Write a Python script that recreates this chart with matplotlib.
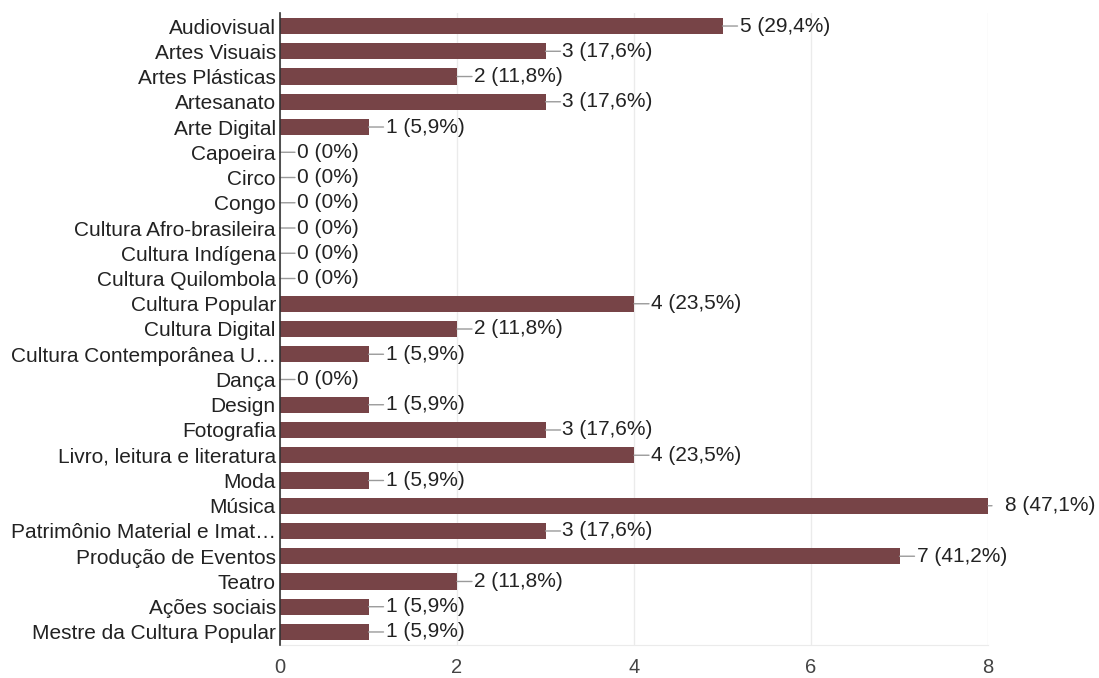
import matplotlib
matplotlib.use("Agg")
import matplotlib.pyplot as plt

categories = ["Audiovisual", "Artes Visuais", "Artes Plásticas", "Artesanato", "Arte Digital",
              "Capoeira", "Circo", "Congo", "Cultura Afro-brasileira", "Cultura Indígena",
              "Cultura Quilombola", "Cultura Popular", "Cultura Digital",
              "Cultura Contemporânea U…", "Dança", "Design", "Fotografia",
              "Livro, leitura e literatura", "Moda", "Música", "Patrimônio Material e Imat…",
              "Produção de Eventos", "Teatro", "Ações sociais", "Mestre da Cultura Popular"]
counts = [5, 3, 2, 3, 1, 0, 0, 0, 0, 0, 0, 4, 2, 1, 0, 1, 3, 4, 1, 8, 3, 7, 2, 1, 1]
percents = ["29,4%", "17,6%", "11,8%", "17,6%", "5,9%", "0%", "0%", "0%", "0%", "0%",
            "0%", "23,5%", "11,8%", "5,9%", "0%", "5,9%", "17,6%", "23,5%", "5,9%",
            "47,1%", "17,6%", "41,2%", "11,8%", "5,9%", "5,9%"]
xticks = [0, 2, 4, 6, 8]

plt.rcParams['font.family'] = ['Liberation Sans', 'DejaVu Sans']
W, H = 1099, 678
fig = plt.figure(figsize=(W / 100, H / 100), dpi=100)
ax = fig.add_axes([280 / W, (H - 644.6) / H, 708 / W, 631.2 / H])

bar_color = "#774447"
fs = 15
n = len(categories)
ys = list(range(n))
ax.barh(ys, counts, height=0.64, color=bar_color, zorder=3)
ax.set_xlim(0, 8)
ax.set_ylim(n - 0.5, -0.5)

ax.set_yticks(ys)
ax.set_yticklabels(categories, fontsize=fs, color="#222222")
ax.set_xticks(xticks)
ax.set_xticklabels([str(t) for t in xticks], fontsize=14.5, color="#444444")
ax.tick_params(axis='y', length=0, pad=3)
ax.tick_params(axis='x', length=0, pad=10)

ax.grid(axis='x', color="#ebebeb", linewidth=1, zorder=0)
for s in ["top", "right"]:
    ax.spines[s].set_visible(False)
ax.spines["bottom"].set_color("#ebebeb")
ax.spines["left"].set_color("#333333")
ax.spines["left"].set_linewidth(1.2)
ax.spines["left"].set_zorder(5)

for y, c, p in zip(ys, counts, percents):
    end = 4 if c >= 8 else 15
    ax.annotate("", xy=(c, y), xytext=(end, 0), textcoords="offset pixels",
                arrowprops=dict(arrowstyle="-", color="#9a9a9a", lw=1, shrinkA=0, shrinkB=0),
                annotation_clip=False)
    ax.annotate(f"{c} ({p})", xy=(c, y), xytext=(17, 0), textcoords="offset pixels",
                ha="left", va="center", fontsize=fs, color="#222222", annotation_clip=False)

fig.savefig("out.png", dpi=100)
